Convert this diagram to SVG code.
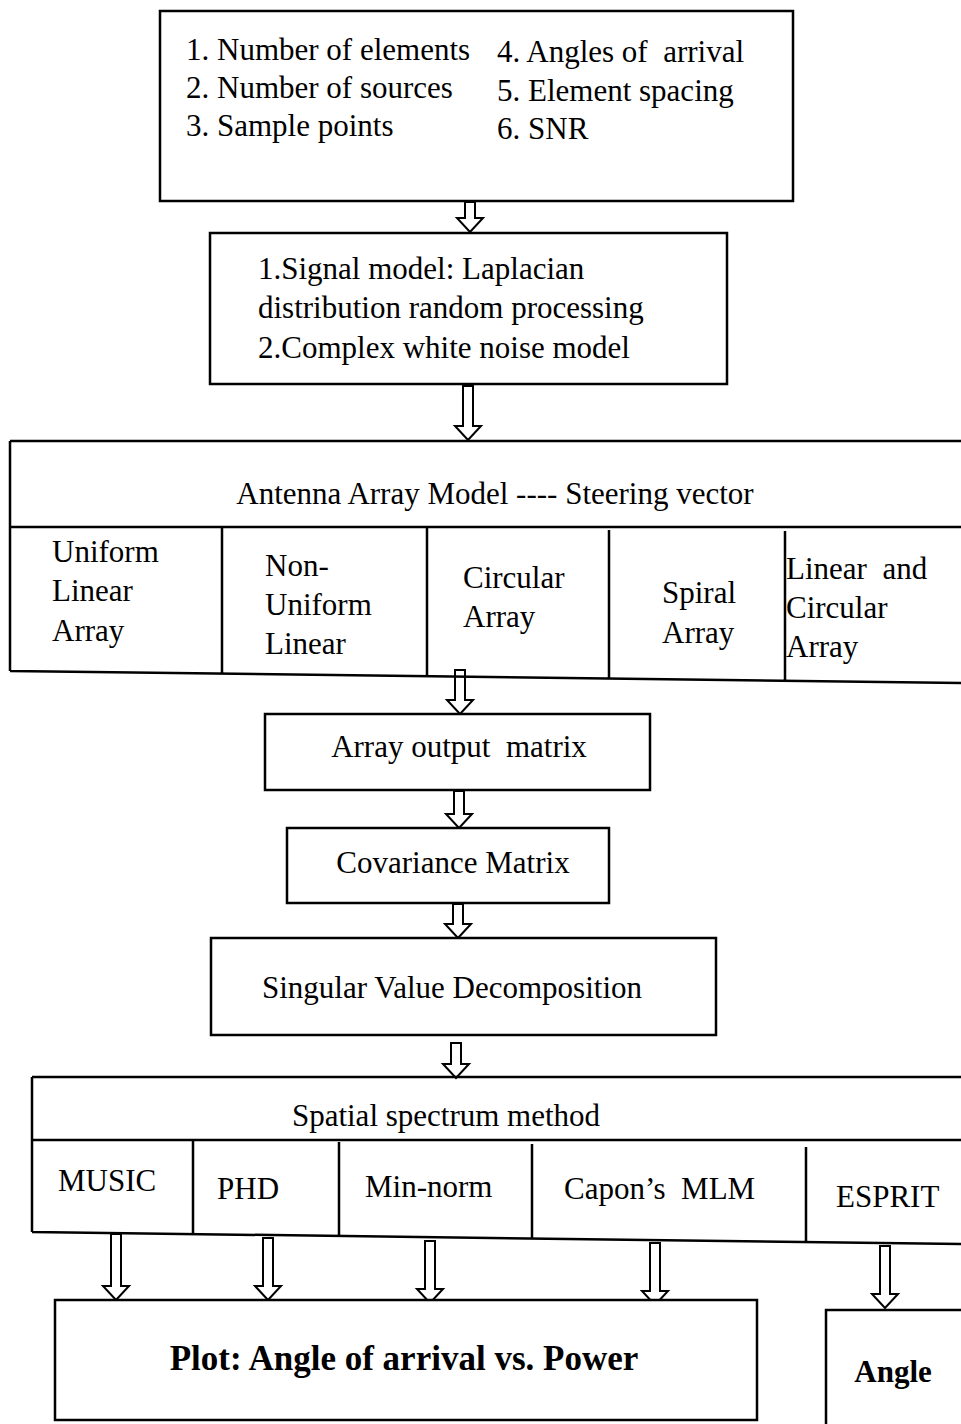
<svg xmlns="http://www.w3.org/2000/svg" width="961" height="1424" viewBox="0 0 961 1424">
<style>
.box{fill:#fff;stroke:#000;stroke-width:2.5}
.ln{stroke:#000;stroke-width:2.5;fill:none}
.arr{fill:#fff;stroke:#000;stroke-width:2}
text{font-family:"Liberation Serif","Times New Roman",serif;font-size:31px;fill:#000}
.b{font-weight:bold;font-size:35px}
.ang{font-weight:bold;font-size:31px}
</style>
<rect width="961" height="1424" fill="#fff"/>
<g id="connectors">
<polygon class="arr" points="465,202 465,218 457,218 470,232 483,218 475,218 475,202"/>
<polygon class="arr" points="463,386 463,426 455,426 468,440 481,426 473,426 473,386"/>
<polygon class="arr" points="455,670 455,700 447,700 460,714 473,700 465,700 465,670"/>
<polygon class="arr" points="454,791 454,814 446,814 459,828 472,814 464,814 464,791"/>
<polygon class="arr" points="453,904 453,924 445,924 458,938 471,924 463,924 463,904"/>
<polygon class="arr" points="451,1043 451,1064 443,1064 456,1078 469,1064 461,1064 461,1043"/>
<polygon class="arr" points="111,1234 111,1286 103,1286 116,1300 129,1286 121,1286 121,1234"/>
<polygon class="arr" points="263,1238 263,1286 255,1286 268,1300 281,1286 273,1286 273,1238"/>
<polygon class="arr" points="425,1241 425,1289 417,1289 430,1303 443,1289 435,1289 435,1241"/>
<polygon class="arr" points="650,1243 650,1291 642,1291 655,1305 668,1291 660,1291 660,1243"/>
<polygon class="arr" points="880,1246 880,1294 872,1294 885,1308 898,1294 890,1294 890,1246"/>
</g>
<g id="params">
<rect class="box" x="160" y="11" width="633" height="190"/>
<text x="186" y="60">1. Number of elements</text>
<text x="186" y="98">2. Number of sources</text>
<text x="186" y="136">3. Sample points</text>
<text x="497" y="62" xml:space="preserve">4. Angles of  arrival</text>
<text x="497" y="101">5. Element spacing</text>
<text x="497" y="139">6. SNR</text>
</g>
<g id="signal">
<rect class="box" x="210" y="233" width="517" height="151"/>
<text x="258" y="279">1.Signal model: Laplacian</text>
<text x="258" y="318">distribution random processing</text>
<text x="258" y="358">2.Complex white noise model</text>
</g>
<g id="antenna">
<path class="ln" d="M10,441 H961 M10,441 V671 M10,527 H961 M10,671 L961,683 M222,527 V674 M427,528 V677 M609,530 V679 M785,531 V681"/>
<text x="495" y="504" text-anchor="middle">Antenna Array Model ---- Steering vector</text>
<text x="52" y="562">Uniform</text>
<text x="52" y="601">Linear</text>
<text x="52" y="641">Array</text>
<text x="265" y="576">Non-</text>
<text x="265" y="615">Uniform</text>
<text x="265" y="654">Linear</text>
<text x="463" y="588">Circular</text>
<text x="463" y="627">Array</text>
<text x="662" y="603">Spiral</text>
<text x="662" y="643">Array</text>
<text x="786" y="579" xml:space="preserve">Linear  and</text>
<text x="786" y="618">Circular</text>
<text x="786" y="657">Array</text>
</g>
<g id="output">
<rect class="box" x="265" y="714" width="385" height="76"/>
<text x="459" y="757" text-anchor="middle" xml:space="preserve">Array output  matrix</text>
</g>
<g id="covariance">
<rect class="box" x="287" y="828" width="322" height="75"/>
<text x="453" y="873" text-anchor="middle">Covariance Matrix</text>
</g>
<g id="svd">
<rect class="box" x="211" y="938" width="505" height="97"/>
<text x="452" y="998" text-anchor="middle">Singular Value Decomposition</text>
</g>
<g id="spectrum">
<path class="ln" d="M32,1077 H961 M32,1140 H961 M32,1077 V1232 M32,1232 L961,1244 M193,1140 V1234 M339,1142 V1236 M532,1144 V1239 M806,1147 V1242"/>
<text x="446" y="1126" text-anchor="middle">Spatial spectrum method</text>
<text x="58" y="1191">MUSIC</text>
<text x="217" y="1199">PHD</text>
<text x="365" y="1197">Min-norm</text>
<text x="564" y="1199" xml:space="preserve">Capon’s  MLM</text>
<text x="836" y="1207">ESPRIT</text>
</g>
<g id="plot">
<rect class="box" x="55" y="1300" width="702" height="120"/>
<text class="b" x="404" y="1370" text-anchor="middle">Plot: Angle of arrival vs. Power</text>
</g>
<g id="angle">
<path class="ln" d="M826,1424 V1310 H961"/>
<text class="ang" x="893" y="1382" text-anchor="middle">Angle</text>
</g>
</svg>
